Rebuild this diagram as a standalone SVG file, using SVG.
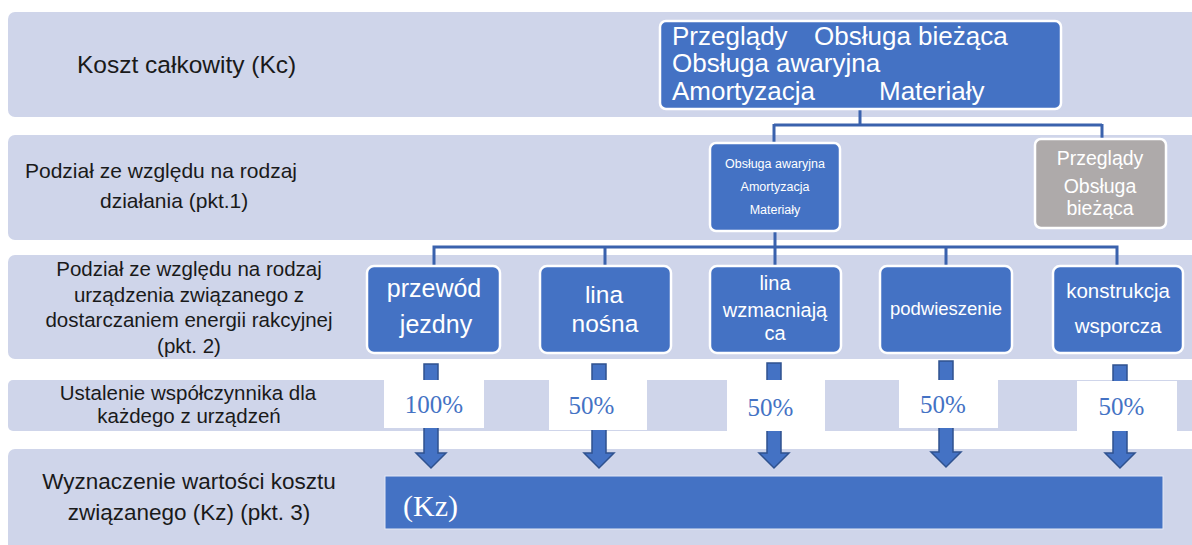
<svg xmlns="http://www.w3.org/2000/svg" width="1192" height="545" viewBox="0 0 1192 545">
<defs>
<style>
.band{fill:#CFD5EA;}
.lbl{font-family:"Liberation Sans",Arial,sans-serif;fill:#1A1A1A;}
.node{fill:#4472C4;stroke:#FFFFFF;stroke-width:2.5;}
.grey{fill:#AEAAAA;stroke:#FFFFFF;stroke-width:2.5;}
.nt{font-family:"Liberation Sans",Arial,sans-serif;fill:#FFFFFF;text-anchor:middle;}
.conn{fill:none;stroke:#3A62AD;stroke-width:3;}
.arrow{fill:#4472C4;stroke:#2F528F;stroke-width:1.5;}
.pbox{fill:#FFFFFF;}
.pt{font-family:"Liberation Serif","Times New Roman",serif;font-size:25px;fill:#4472C4;text-anchor:middle;}
</style>
</defs>
<rect width="1192" height="545" fill="#FFFFFF"/>

<g id="band1">
<rect class="band" x="8" y="12" width="1200" height="105" rx="7"/>
<text class="lbl" x="77" y="73" font-size="24.5">Koszt całkowity (Kc)</text>
</g>
<g id="band2">
<rect class="band" x="8" y="135" width="1200" height="105" rx="7"/>
<text class="lbl" x="25" y="178" font-size="21">Podział ze względu na rodzaj</text>
<text class="lbl" x="100" y="208" font-size="21">działania (pkt.1)</text>
</g>
<g id="band3">
<rect class="band" x="8" y="255" width="1200" height="104" rx="7"/>
<g class="lbl" font-size="20.5" text-anchor="middle">
<text x="189" y="276">Podział ze względu na rodzaj</text>
<text x="189" y="301.5">urządzenia związanego z</text>
<text x="189" y="327">dostarczaniem energii rakcyjnej</text>
<text x="189" y="352.5">(pkt. 2)</text>
</g>
</g>
<g id="band4">
<rect class="band" x="8" y="380" width="1200" height="51" rx="5"/>
<g class="lbl" font-size="20.5" text-anchor="middle">
<text x="188" y="400">Ustalenie współczynnika dla</text>
<text x="189" y="423">każdego z urządzeń</text>
</g>
</g>
<g id="band5">
<rect class="band" x="8" y="449" width="1200" height="110" rx="7"/>
<g class="lbl" font-size="22.5" text-anchor="middle">
<text x="189" y="489">Wyznaczenie wartości kosztu</text>
<text x="189" y="520">związanego (Kz) (pkt. 3)</text>
</g>
</g>

<g id="connectors">
<path class="conn" d="M860 109 V125 M774 125 H1102 M774 124 V143 M1102 124 V139"/>
<path class="conn" d="M775 231 V247 M432.5 247 H1118.5 M434 246 V266 M605 246 V266 M775 246 V266 M946 246 V266 M1117 246 V266"/>
<path class="arrow" d="M424 364 H438 V453 H446 L431 468 L416 453 H424 Z"/>
<path class="arrow" d="M592 364 H606 V453 H614 L599 468 L584 453 H592 Z"/>
<path class="arrow" d="M767 363 H781 V453 H789 L774 468 L759 453 H767 Z"/>
<path class="arrow" d="M939 361 H953 V452 H961 L946 467 L931 452 H939 Z"/>
<path class="arrow" d="M1113 365 H1127 V453 H1135 L1120 468 L1105 453 H1113 Z"/>
</g>

<g id="top">
<rect class="node" x="660" y="21" width="401" height="88" rx="6"/>
<g font-family="'Liberation Sans',Arial,sans-serif" font-size="26" fill="#FFFFFF">
<text x="672" y="45">Przeglądy</text>
<text x="814" y="45">Obsługa bieżąca</text>
<text x="672" y="72">Obsługa awaryjna</text>
<text x="672" y="100">Amortyzacja</text>
<text x="879" y="100">Materiały</text>
</g>
</g>

<g id="awaryjna">
<rect class="node" x="710" y="143" width="130" height="88" rx="6"/>
<g class="nt" font-size="12.5">
<text x="775" y="168">Obsługa awaryjna</text>
<text x="775" y="191">Amortyzacja</text>
<text x="775" y="214">Materiały</text>
</g>
</g>

<g id="przeglady">
<rect class="grey" x="1035" y="139" width="131" height="89" rx="6"/>
<g class="nt" font-size="19.5">
<text x="1100" y="165">Przeglądy</text>
<text x="1100" y="193">Obsługa</text>
<text x="1100" y="215">bieżąca</text>
</g>
</g>

<g id="przewod">
<rect class="node" x="367" y="266" width="133" height="87" rx="7"/>
<g class="nt" font-size="25">
<text x="434" y="297">przewód</text>
<text x="436" y="333">jezdny</text>
</g>
</g>
<g id="nosna">
<rect class="node" x="540" y="266" width="131" height="87" rx="7"/>
<g class="nt" font-size="24.5">
<text x="604" y="303">lina</text>
<text x="605" y="332">nośna</text>
</g>
</g>
<g id="wzmacniajaca">
<rect class="node" x="710" y="266" width="131" height="87" rx="7"/>
<g class="nt" font-size="20">
<text x="775" y="290">lina</text>
<text x="775" y="317">wzmacniają</text>
<text x="775" y="340">ca</text>
</g>
</g>
<g id="podwieszenie">
<rect class="node" x="880" y="266" width="132" height="87" rx="7"/>
<text class="nt" x="946" y="315" font-size="18.5">podwieszenie</text>
</g>
<g id="konstrukcja">
<rect class="node" x="1053" y="266" width="130" height="87" rx="7"/>
<g class="nt" font-size="20.5">
<text x="1118" y="298">konstrukcja</text>
<text x="1118" y="333">wsporcza</text>
</g>
</g>

<g id="p1"><rect class="pbox" x="384" y="380" width="100" height="48"/><text class="pt" x="434" y="413">100%</text></g>
<g id="p2"><rect class="pbox" x="549" y="380" width="98" height="50"/><text class="pt" x="591.5" y="414">50%</text></g>
<g id="p3"><rect class="pbox" x="727" y="380" width="98" height="51"/><text class="pt" x="770.5" y="416">50%</text></g>
<g id="p4"><rect class="pbox" x="899" y="380" width="99" height="48"/><text class="pt" x="943" y="413">50%</text></g>
<g id="p5"><rect class="pbox" x="1077" y="381" width="100" height="50"/><text class="pt" x="1121.5" y="415">50%</text></g>

<g id="kz">
<rect x="385" y="476" width="778" height="53" fill="#4472C4" stroke="#E3E8F5" stroke-width="1"/>
<text x="403" y="516" font-family="'Liberation Serif','Times New Roman',serif" font-size="30" fill="#FFFFFF">(Kz)</text>
</g>
</svg>
